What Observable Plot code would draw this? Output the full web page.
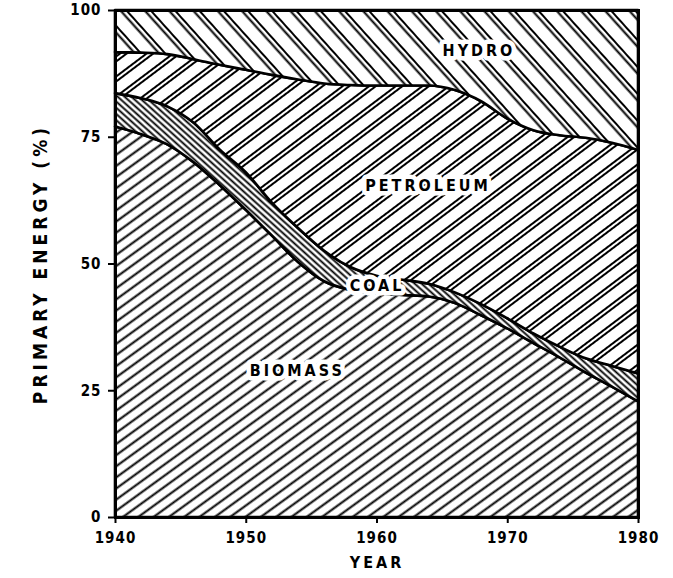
<!DOCTYPE html>
<html>
<head>
<meta charset="utf-8">
<script src="https://cdn.jsdelivr.net/npm/d3@7"></script>
<script src="https://cdn.jsdelivr.net/npm/@observablehq/plot@0.6"></script>
<style>
  html, body { margin: 0; padding: 0; background: #fff; }
  svg { display: block; }
</style>
</head>
<body>
<div id="chart"></div>
<script>
// Values (share of primary energy, %)
const years = [1940,1942,1944,1946,1948,1950,1952,1954,1956,1958,1960,1962,1964,1966,1968,1970,1972,1974,1976,1978,1980];
const biomass   = [77.0,75.5,73.5,70.0,65.5,60.6,55.5,50.3,46.5,44.8,44.2,43.8,43.5,42.2,39.8,37.2,34.3,31.5,28.5,25.7,22.8];
const coal      = [6.6,7.1,7.5,7.8,7.0,7.4,6.5,6.7,6.0,4.5,3.4,3.0,2.5,2.1,2.2,2.0,1.9,2.1,2.8,4.1,5.5];
const petroleum = [8.1,9.0,10.3,12.5,16.7,20.2,25.2,29.3,33.0,35.9,37.5,38.3,39.1,39.9,40.0,39.4,40.1,41.7,43.5,44.0,44.1];
const hydro     = [8.3,8.4,8.7,9.7,10.8,11.8,12.8,13.7,14.5,14.8,14.9,14.9,14.9,15.8,18.0,21.4,23.7,24.7,25.2,26.2,27.6];

const sources = ["BIOMASS", "COAL", "PETROLEUM", "HYDRO"];
const seriesValues = [biomass, coal, petroleum, hydro];
const patternIds = ["p-biomass", "p-coal", "p-petroleum", "p-hydro"];

const xTicks = [1940, 1950, 1960, 1970, 1980];
const yTicks = [0, 25, 50, 75, 100];

// Label anchors (year, percent)
const labels = [
  {text: "HYDRO", year: 1967.8, pct: 92.0},
  {text: "PETROLEUM", year: 1963.9, pct: 65.5},
  {text: "COAL", year: 1960.0, pct: 45.6},
  {text: "BIOMASS", year: 1953.9, pct: 29.0}
];

const rows = [];
sources.forEach((s, i) => years.forEach((y, j) => rows.push({source: s, year: y, value: seriesValues[i][j]})));

const font = "'DejaVu Sans Condensed', 'DejaVu Sans', sans-serif";

const chart = Plot.plot({
  width: 673,
  height: 578,
  marginLeft: 115,
  marginRight: 35,
  marginTop: 10,
  marginBottom: 61,
  style: {fontFamily: font, fontSize: "15px", fontWeight: "bold", color: "black", background: "white"},
  x: {domain: [1940, 1980], label: null},
  y: {domain: [0, 100], label: null},
  color: {type: "ordinal", domain: sources, range: patternIds.map(id => `url(#${id})`)},
  marks: [
    Plot.areaY(rows, Plot.stackY({
      x: "year", y: "value", z: "source", fill: "source",
      order: sources, curve: "monotone-x",
      stroke: "black", strokeWidth: 2.6, strokeLinejoin: "round"
    })),
    Plot.text(labels, {
      x: "year", y: "pct", text: "text",
      fontSize: 16, fontWeight: "bold", fill: "black",
      stroke: "white", strokeWidth: 9, strokeLinejoin: "round",
      paintOrder: "stroke", className: "area-label"
    }),
    Plot.frame({stroke: "black", strokeWidth: 3}),
    Plot.axisX({ticks: xTicks, tickFormat: d => String(d), tickSize: 6, tickPadding: 9, label: null, strokeWidth: 2, fontSize: 15}),
    Plot.axisY({ticks: yTicks, tickSize: 7, tickPadding: 7, label: null, strokeWidth: 2, fontSize: 15}),
    Plot.text(["YEAR"], {frameAnchor: "bottom", dy: 50, fontSize: 16, fontWeight: "bold", fill: "black", className: "axis-title x-title"}),
    Plot.text(["PRIMARY ENERGY (%)"], {frameAnchor: "left", textAnchor: "middle", dx: -75, rotate: -90, fontSize: 19, fontWeight: "bold", fill: "black", className: "axis-title y-title"})
  ]
});

// hatch patterns
const ns = "http://www.w3.org/2000/svg";
const defs = document.createElementNS(ns, "defs");
function hatch(id, period, offsets, width, angle) {
  const p = document.createElementNS(ns, "pattern");
  p.setAttribute("id", id);
  p.setAttribute("patternUnits", "userSpaceOnUse");
  p.setAttribute("width", 40);
  p.setAttribute("height", period);
  p.setAttribute("patternTransform", `rotate(${angle})`);
  const bg = document.createElementNS(ns, "rect");
  bg.setAttribute("width", 40); bg.setAttribute("height", period); bg.setAttribute("fill", "white");
  p.appendChild(bg);
  offsets.forEach(o => {
    const l = document.createElementNS(ns, "line");
    l.setAttribute("x1", -5); l.setAttribute("x2", 45);
    l.setAttribute("y1", o); l.setAttribute("y2", o);
    l.setAttribute("stroke", "black"); l.setAttribute("stroke-width", width);
    p.appendChild(l);
  });
  defs.appendChild(p);
}
hatch("p-biomass", 9, [4.5], 2.1, -36);
hatch("p-coal", 4.6, [2.3], 1.7, 42);
hatch("p-petroleum", 16, [3, 7], 1.8, -37);
hatch("p-hydro", 18, [3, 7.5], 1.8, 48);
chart.insertBefore(defs, chart.firstChild);

// letter spacing
chart.querySelectorAll("text").forEach(t => t.setAttribute("letter-spacing", "1"));
chart.querySelectorAll(".area-label text").forEach(t => t.setAttribute("letter-spacing", "3"));
chart.querySelectorAll(".y-title text").forEach(t => t.setAttribute("letter-spacing", "4"));
chart.querySelectorAll(".x-title text").forEach(t => t.setAttribute("letter-spacing", "3"));
document.getElementById("chart").appendChild(chart);
</script>
</body>
</html>
